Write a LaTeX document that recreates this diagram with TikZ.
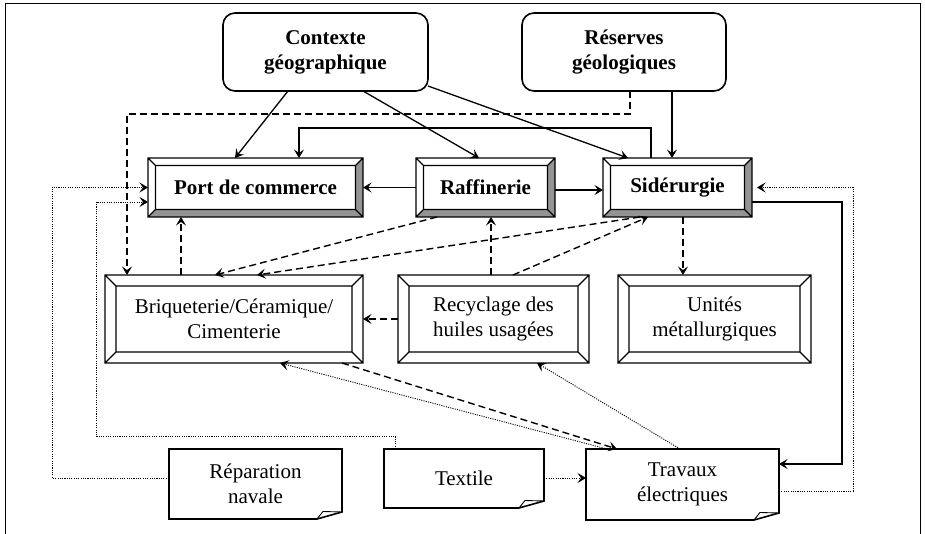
\documentclass[tikz,border=0pt]{standalone}
\usepackage{fontspec}
\setmainfont{Liberation Serif}
\usetikzlibrary{arrows.meta,calc}
\tikzset{
  box/.style={rectangle, inner sep=0pt, outer sep=0pt, align=center, font=\fontsize{21}{25}\selectfont},
  bbox/.style={box, font=\fontsize{21}{25}\selectfont\bfseries},
  rbox/.style={bbox, draw, line width=1.6pt, rounded corners=12pt},
  bevline/.style={line width=1.2pt, line join=miter},
  docline/.style={line width=1.6pt, line join=miter},
  tip/.style={-{Stealth[length=8.5pt,width=10pt,inset=3.5pt]}},
  sol/.style={tip, line width=1.3pt},
  dsh/.style={tip, line width=1.4pt, dash pattern=on 7pt off 4pt},
  dot/.style={tip, line width=0.9pt, dash pattern=on 1.1pt off 1.2pt},
  frame/.style={line width=1pt}
}
\newcommand\mybevel[3]{%
  \path (#1.north west) coordinate (o1) (#1.north east) coordinate (o2)
        (#1.south east) coordinate (o3) (#1.south west) coordinate (o4);
  \path ($(o1)+(#2,-#2)$) coordinate (i1) ($(o2)+(-#2,-#2)$) coordinate (i2)
        ($(o3)+(-#2,#2)$) coordinate (i3) ($(o4)+(#2,#2)$) coordinate (i4);
  \fill[#3] (o2)--(o3)--(i3)--(i2)--cycle;
  \fill[#3] (o3)--(o4)--(i4)--(i3)--cycle;
  \draw[bevline] (o1)--(o2)--(o3)--(o4)--cycle (i1)--(i2)--(i3)--(i4)--cycle
        (o1)--(i1) (o2)--(i2) (o3)--(i3) (o4)--(i4);
}
\newcommand\mydoc[1]{%
  \draw[docline] (#1.north west) -- (#1.north east) -- ([yshift=7pt]#1.south east)
     -- ([xshift=-25pt]#1.south east) -- (#1.south west) -- cycle;
  \draw[line width=0.9pt] ([xshift=-25pt]#1.south east) -- ([xshift=-19pt,yshift=7.5pt]#1.south east) -- ([yshift=7pt]#1.south east);
}
\begin{document}
\begin{tikzpicture}[x=1pt,y=-1pt]
\useasboundingbox (0,0) rectangle (925,534);
\draw[frame] (5,534) -- (5,4) -- (920,4) -- (920,534);

% top rounded boxes
\node[rbox, minimum width=205pt, minimum height=78pt] (ctx) at (325.5,52) {Contexte\\géographique};
\node[rbox, minimum width=204pt, minimum height=78pt] (res) at (624,52) {Réserves\\géologiques};

% first row (shaded bevel)
\node[bbox, minimum width=215pt, minimum height=59pt] (port) at (255.5,187.5) {Port de commerce};
\node[bbox, minimum width=139pt, minimum height=59pt] (raf) at (485.5,187.5) {Raffinerie};
\node[bbox, minimum width=149pt, minimum height=59pt] (sid) at (677.5,187.5) {Sidérurgie};
\mybevel{port}{7.5pt}{black!42}
\mybevel{raf}{7.5pt}{black!42}
\mybevel{sid}{7.5pt}{black!42}

% second row (white bevel)
\node[box, minimum width=258pt, minimum height=88pt] (briq) at (234,319) {Briqueterie/Céramique/\\Cimenterie};
\node[box, minimum width=191pt, minimum height=88pt] (recy) at (493.5,319) {Recyclage des\\huiles usagées};
\node[box, minimum width=193pt, minimum height=88pt] (unit) at (714.5,319) {Unités\\métallurgiques};
\mybevel{briq}{11pt}{white}
\mybevel{recy}{11pt}{white}
\mybevel{unit}{11pt}{white}

% bottom documents
\node[box, minimum width=173pt, minimum height=70pt] (rep) at (255.5,484) {Réparation\\navale};
\node[box, minimum width=160pt, minimum height=59pt] (tex) at (464,478.5) {Textile};
\node[box, minimum width=193pt, minimum height=71pt] (trav) at (682.5,484.5) {Travaux\\électriques};
\mydoc{rep}
\mydoc{tex}
\mydoc{trav}

% solid connectors
\draw[sol] ([xshift=-37.5pt]ctx.south) -- ([xshift=-20.5pt]port.north);
\draw[sol] ([xshift=37.5pt]ctx.south) -- ([xshift=-6.5pt]raf.north);
\draw[sol] ([yshift=5pt]ctx.south east) -- ([xshift=-49.5pt]sid.north);
\draw[sol] ([xshift=48pt]res.south) -- ([xshift=-5.5pt]sid.north);
\draw[sol] ([xshift=-26.5pt]sid.north) -- ++(0,-30) -| ([xshift=43.5pt]port.north);
\draw[sol] (raf.west) -- (port.east);
\draw[sol] ([yshift=-2.5pt]raf.east) -- ([yshift=-2.5pt]sid.west);
\draw[sol] ([yshift=-14.5pt]sid.east) -- ++(90,0) |- ([yshift=20.5pt]trav.east);

% dashed connectors
\draw[dsh] ([xshift=6pt]res.south) -- ++(0,23) -| ([xshift=-107pt]briq.north);
\draw[dsh] ([xshift=-53pt]briq.north) -- ([xshift=-74.5pt]port.south);
\draw[dsh] ([xshift=-48.5pt]raf.south) -- ([xshift=-19pt]briq.north);
\draw[dsh] ([xshift=-37.5pt]sid.south) -- ([xshift=23pt]briq.north);
\draw[dsh] ([xshift=-2.5pt]recy.north) -- ([xshift=5.5pt]raf.south);
\draw[dsh] ([xshift=19.5pt]recy.north) -- ([xshift=-29.5pt]sid.south);
\draw[dsh] ([xshift=5.5pt]sid.south) -- ([xshift=-31.5pt]unit.north);
\draw[dsh] (recy.west) -- (briq.east);
\draw[dsh] ([xshift=108pt]briq.south) -- ([xshift=-65.5pt]trav.north);

% dotted connectors
\draw[dot] ([yshift=-6.5pt]trav.east) -- ++(74,0) |- ([xshift=5pt]sid.east);
\draw[dot] ([yshift=6pt]rep.west) -- ++(-117,0) |- (port.west);
\draw[dot] ([xshift=-69pt]tex.north) -- ++(0,-13) -- ++(-299,0) |- ([yshift=-14.5pt]port.west);
\draw[dot] ([yshift=0.5pt]tex.east) -- ([yshift=6.5pt]trav.west);
\draw[dot] ([xshift=-75.5pt]trav.north) -- ([xshift=46pt]briq.south);
\draw[dot] ([xshift=-2.5pt]trav.north) -- ([xshift=43.5pt]recy.south);
\end{tikzpicture}
\end{document}
